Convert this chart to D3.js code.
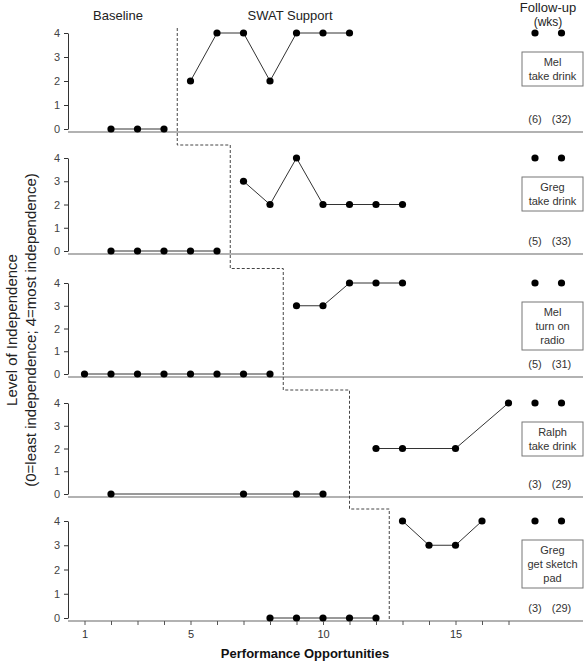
<!DOCTYPE html>
<html><head><meta charset="utf-8">
<script src="https://cdn.jsdelivr.net/npm/d3@7"></script>
<style>body{margin:0;background:#fff}svg{display:block}text{font-family:"Liberation Sans",Arial,sans-serif}</style>
</head><body><svg id="c" width="587" height="662"></svg>
<script>
// ---- data ----
const panelLabels = [["Mel","take drink"],["Greg","take drink"],["Mel","turn on","radio"],["Ralph","take drink"],["Greg","get sketch","pad"]];
const baselineX = [[2,3,4],[2,3,4,5,6],[1,2,3,4,5,6,7,8],[2,7,9,10],[8,9,10,11,12]];
const baselineY = [[0,0,0],[0,0,0,0,0],[0,0,0,0,0,0,0,0],[0,0,0,0],[0,0,0,0,0]];
const swatX = [[5,6,7,8,9,10,11],[7,8,9,10,11,12,13],[9,10,11,12,13],[12,13,15,17],[13,14,15,16]];
const swatY = [[2,4,4,2,4,4,4],[3,2,4,2,2,2,2],[3,3,4,4,4],[2,2,2,4],[4,3,3,4]];
const followUpX = [18,19];
const followUpY = [[4,4],[4,4],[4,4],[4,4],[4,4]];
const followUpWeeks = [["(6)","(32)"],["(5)","(33)"],["(5)","(31)"],["(3)","(29)"],["(3)","(29)"]];
const phaseChange = [4.5,6.5,8.5,11,12.5];
const yTicks = [0,1,2,3,4];
const xTickLabels = [1,5,10,15];
const xMinorTicks = [1,2,3,4,5,6,7,8,9,10,11,12,13,14,15,16,17];

// ---- layout ----
const svg = d3.select("#c");
const x = d3.scaleLinear().domain([0,20]).range([58,588]);
const tops = [33,158,283,403,521];
const bottoms = [129,251,374,494,618];
const axisL = 68, axisR = 583;
const boxX = 522, boxW = 61;

svg.append("text").attr("x",118).attr("y",20).attr("text-anchor","middle").attr("font-size",13).attr("fill","#222").text("Baseline");
svg.append("text").attr("x",290).attr("y",20).attr("text-anchor","middle").attr("font-size",13).attr("fill","#222").text("SWAT Support");
svg.append("text").attr("x",548).attr("y",12).attr("text-anchor","middle").attr("font-size",13).attr("fill","#222").text("Follow-up");
svg.append("text").attr("x",548).attr("y",26).attr("text-anchor","middle").attr("font-size",12).attr("fill","#222").text("(wks)");

const yScales = tops.map((t,i)=>d3.scaleLinear().domain([0,4]).range([bottoms[i],t]));
const line = d3.line();

yScales.forEach((y,i)=>{
  const g = svg.append("g");
  g.append("line").attr("x1",axisL).attr("x2",axisR).attr("y1",bottoms[i]+3).attr("y2",bottoms[i]+3)
    .attr("stroke","#999").attr("stroke-width",1.5);
  const ya = d3.axisLeft(y).tickValues(yTicks).tickFormat(d3.format("d")).tickSize(4).tickSizeOuter(0).tickPadding(4);
  const ag = g.append("g").attr("transform",`translate(${axisL},0)`).call(ya);
  ag.select(".domain").attr("stroke","#333");
  ag.selectAll(".tick line").attr("stroke","#333");
  ag.selectAll("text").attr("font-size",11).attr("fill","#444").attr("font-family","Liberation Sans, Arial, sans-serif");
  const draw = (xs,ys,connect)=>{
    const pts = xs.map((v,k)=>[x(v),y(ys[k])]);
    if(connect) g.append("path").attr("d",line(pts)).attr("fill","none").attr("stroke","#333").attr("stroke-width",1);
    g.selectAll(null).data(pts).enter().append("circle").attr("cx",d=>d[0]).attr("cy",d=>d[1]).attr("r",3.6).attr("fill","#000");
  };
  draw(baselineX[i],baselineY[i],true);
  draw(swatX[i],swatY[i],true);
  draw(followUpX,followUpY[i],false);
  followUpWeeks[i].forEach((w,k)=>{
    g.append("text").attr("x",x(followUpX[k])).attr("y",bottoms[i]-6).attr("text-anchor","middle")
      .attr("font-size",11).attr("fill","#333").text(w);
  });
  const lines = panelLabels[i];
  const bTop = tops[i] + 19;
  const bH = lines.length*14 + 6;
  g.append("rect").attr("x",boxX).attr("y",bTop).attr("width",boxW).attr("height",bH)
    .attr("fill","#fff").attr("stroke","#777").attr("stroke-width",1);
  lines.forEach((t,k)=>{
    g.append("text").attr("x",boxX+boxW/2).attr("y",bTop+14+k*14).attr("text-anchor","middle")
      .attr("font-size",11).attr("fill","#333").text(t);
  });
});

const xa = d3.axisBottom(x).tickValues(xMinorTicks).tickSize(4).tickFormat(d=>xTickLabels.includes(d)?d:"").tickPadding(5);
const xg = svg.append("g").attr("transform",`translate(0,${bottoms[4]+3})`).call(xa);
xg.select(".domain").remove();
xg.selectAll(".tick line").attr("stroke","#555");
xg.selectAll("text").attr("font-size",11).attr("fill","#333").attr("font-family","Liberation Sans, Arial, sans-serif");
svg.append("text").attr("x",305).attr("y",658).attr("text-anchor","middle").attr("font-size",13).attr("font-weight","bold").attr("fill","#111").text("Performance Opportunities");

const stair = [];
phaseChange.forEach((p,i)=>{
  const yStart = i===0 ? 28 : (bottoms[i-1]+3 + tops[i])/2;
  if(i>0) stair.push([x(phaseChange[i-1]), yStart]);
  stair.push([x(p), yStart]);
  const yEnd = i<4 ? (bottoms[i]+3 + tops[i+1])/2 : bottoms[4]+3;
  stair.push([x(p), yEnd]);
});
svg.append("path").attr("d",d3.line()(stair)).attr("fill","none").attr("stroke","#444").attr("stroke-width",1).attr("stroke-dasharray","3,2");

const yl = svg.append("text").attr("transform","translate(0,330) rotate(-90)").attr("text-anchor","middle").attr("font-size",15).attr("fill","#222");
yl.append("tspan").attr("x",0).attr("y",17).text("Level of Independence");
yl.append("tspan").attr("x",0).attr("y",36).text("(0=least independence; 4=most independence)");
</script></body></html>
